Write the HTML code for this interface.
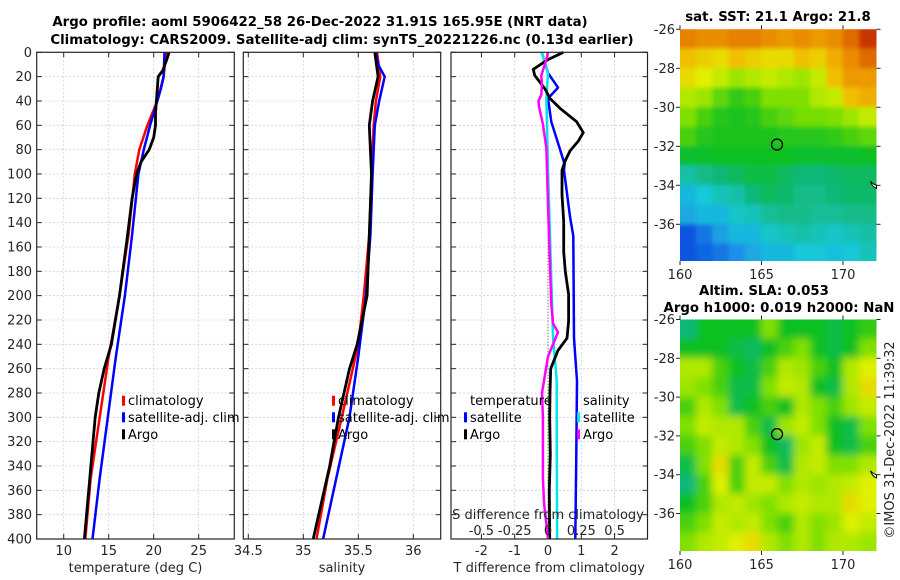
<!DOCTYPE html>
<html><head><meta charset="utf-8">
<style>
html,body{margin:0;padding:0;background:#fff;}
svg{display:block;font-family:"DejaVu Sans","Liberation Sans",sans-serif;}
.tk{font-size:13px;fill:#262626;}
.ttl{font-size:13.3px;font-weight:bold;fill:#000;}
.lg{font-size:13px;fill:#000;}
</style></head>
<body>
<svg id="fig" width="900" height="580" viewBox="0 0 900 580" xmlns="http://www.w3.org/2000/svg">
<text class="ttl" x="320" y="26" text-anchor="middle">Argo profile: aoml 5906422_58 26-Dec-2022 31.91S 165.95E (NRT data)</text>
<text class="ttl" x="342" y="44" text-anchor="middle">Climatology: CARS2009. Satellite-adj clim: synTS_20221226.nc (0.13d earlier)</text>
<text class="ttl" x="778" y="21" text-anchor="middle">sat. SST: 21.1 Argo: 21.8</text>
<text class="ttl" x="764" y="295" text-anchor="middle">Altim. SLA: 0.053</text>
<text class="ttl" x="779" y="312" text-anchor="middle">Argo h1000: 0.019 h2000: NaN</text>
<text class="tk" transform="translate(894,440) rotate(-90)" text-anchor="middle">©IMOS 31-Dec-2022 11:39:32</text>
<g id="layer"></g>
</svg>
<script>
// ---- depth axis ticks
const depthTicks = [0,20,40,60,80,100,120,140,160,180,200,220,240,260,280,300,320,340,360,380,400];
// ---- temperature panel data
const tempTicks = [10,15,20,25];
const climDepth = [0,20,40,60,80,100,150,200,250,300,350,400];
const climTemp = [21.4,21.1,20.4,19.3,18.4,17.9,17.2,16.2,15.0,14.0,13.0,12.4];
const satDepth = [0,20,30,40,60,80,100,150,200,250,300,350,400];
const satTemp = [21.2,21.1,20.8,20.4,19.6,18.9,18.3,17.6,16.8,15.8,14.9,14.0,13.2];
const argoDepth = [0,5,15,20,30,40,50,60,70,80,90,100,120,150,200,240,260,280,300,350,400];
const argoTemp = [21.7,21.5,21.0,20.5,20.4,20.3,20.2,20.2,20.0,19.5,18.6,18.1,17.6,17.1,16.2,15.3,14.5,13.9,13.5,12.9,12.3];
// ---- salinity panel data
const salTicks = [34.5,35,35.5,36];
const salTickLabels = ["34.5","35","35.5","36"];
const climSalDepth = [0,20,40,60,100,150,200,240,260,300,350,400];
const climSal = [35.67,35.70,35.66,35.64,35.62,35.60,35.55,35.50,35.45,35.35,35.22,35.12];
const satSalDepth = [0,10,20,40,60,100,150,200,250,300,350,400];
const satSal = [35.66,35.68,35.74,35.69,35.65,35.63,35.61,35.57,35.50,35.42,35.30,35.18];
const argoSalDepth = [0,20,40,60,100,150,200,240,260,300,340,400];
const argoSal = [35.65,35.68,35.63,35.60,35.62,35.60,35.58,35.49,35.42,35.32,35.24,35.09];
// ---- difference panel data
const tdiffTicks = [-2,-1,0,1,2];
const sdiffTicks = [-0.5,-0.25,0,0.25,0.5];
const sdiffTickLabels = ["-0.5","-0.25","0","0.25","0.5"];
const dTArgoDepth = [0,6,14,19,30,38,46,57,66,73,81,89,97,117,139,164,180,199,221,235,245,260,280,300,330,360,400];
const dTArgo = [0.46,0.0,-0.44,-0.40,-0.09,0.06,0.36,0.86,1.06,0.91,0.66,0.52,0.42,0.42,0.47,0.47,0.52,0.62,0.62,0.57,0.3,0.08,0.06,0.05,0.07,0.04,0.05];
const dTSatDepth = [0,17,29,38,57,79,92,97,135,151,235,270,330,400];
const dTSat = [-0.19,0.0,0.3,0.0,0.1,0.35,0.5,0.48,0.66,0.76,0.78,0.87,0.85,0.82];
const dSSatDepth = [0,17,38,97,235,270,330,400];
const dSSat = [-0.048,0.0,-0.012,0.0,0.038,0.065,0.066,0.068];
const dSArgoDepth = [0,6,19,27,35,40,45,59,79,125,207,223,230,250,280,300,350,370,400];
const dSArgo = [0.0,-0.012,-0.05,-0.045,-0.05,-0.072,-0.067,-0.038,-0.012,0.0,0.025,0.038,0.075,0.0,-0.045,-0.038,-0.038,-0.03,0.0];
// ---- map data (colormap index per 1x1 degree cell, rows lat -26 .. -38, cols lon 160 .. 172)
const mapLonTicks = [160,165,170];
const mapLatTicks = [-26,-28,-30,-32,-34,-36];
const sstGrid = [
[0.82,0.80,0.80,0.82,0.82,0.80,0.78,0.80,0.78,0.80,0.85,0.92],
[0.72,0.70,0.68,0.72,0.70,0.68,0.68,0.72,0.70,0.75,0.80,0.85],
[0.68,0.65,0.62,0.58,0.60,0.62,0.60,0.58,0.62,0.72,0.78,0.78],
[0.60,0.58,0.52,0.48,0.50,0.55,0.55,0.55,0.60,0.62,0.72,0.75],
[0.55,0.50,0.47,0.46,0.47,0.50,0.52,0.54,0.54,0.55,0.58,0.62],
[0.50,0.47,0.46,0.46,0.46,0.46,0.47,0.47,0.47,0.48,0.50,0.52],
[0.44,0.44,0.45,0.45,0.45,0.45,0.45,0.44,0.44,0.44,0.44,0.45],
[0.35,0.37,0.38,0.40,0.42,0.42,0.40,0.38,0.38,0.39,0.40,0.40],
[0.30,0.32,0.34,0.35,0.38,0.40,0.39,0.37,0.37,0.38,0.39,0.39],
[0.28,0.30,0.30,0.33,0.34,0.36,0.37,0.37,0.36,0.36,0.37,0.37],
[0.18,0.22,0.27,0.30,0.30,0.33,0.34,0.35,0.34,0.33,0.34,0.35],
[0.18,0.20,0.22,0.25,0.28,0.30,0.30,0.32,0.32,0.31,0.32,0.34]];
const slaGrid = [
[0.38,0.45,0.45,0.45,0.45,0.55,0.45,0.45,0.45,0.42,0.45,0.48],
[0.45,0.45,0.45,0.42,0.40,0.45,0.50,0.55,0.45,0.42,0.45,0.55],
[0.60,0.60,0.50,0.45,0.42,0.50,0.60,0.58,0.50,0.45,0.60,0.65],
[0.58,0.55,0.50,0.42,0.42,0.55,0.62,0.60,0.45,0.42,0.60,0.68],
[0.50,0.60,0.55,0.42,0.45,0.50,0.45,0.60,0.55,0.50,0.58,0.62],
[0.55,0.62,0.60,0.60,0.50,0.42,0.58,0.62,0.55,0.45,0.42,0.55],
[0.50,0.55,0.62,0.60,0.55,0.45,0.40,0.58,0.62,0.45,0.42,0.50],
[0.42,0.55,0.68,0.50,0.62,0.50,0.42,0.60,0.62,0.55,0.55,0.60],
[0.38,0.50,0.65,0.50,0.62,0.62,0.55,0.60,0.58,0.60,0.62,0.65],
[0.45,0.50,0.60,0.62,0.58,0.55,0.60,0.62,0.60,0.60,0.68,0.65],
[0.50,0.55,0.62,0.60,0.62,0.55,0.50,0.60,0.55,0.58,0.65,0.62],
[0.55,0.60,0.62,0.65,0.68,0.60,0.55,0.60,0.55,0.60,0.60,0.58]];
const floatLon = [165.95];
const floatLat = [-31.91];

const NS="http://www.w3.org/2000/svg";
const layer=document.getElementById('layer');
function mk(tag,attrs,parent){const e=document.createElementNS(NS,tag);for(const k in attrs)e.setAttribute(k,attrs[k]);(parent||layer).appendChild(e);return e;}

const Y0=52.3, Y1=539;
const yD = d => Y0 + d*(Y1-Y0)/400;

function panel(name,x0,x1,xs,xticks,xlabels,xtitle){
  const g=mk('g',{});
  
  
  xticks.forEach(v=>{const x=xs(v);
    mk('line',{x1:x,x2:x,y1:Y0,y2:Y1,stroke:'#c8cce8','stroke-width':0.8,'stroke-dasharray':'2,2'},g);
    mk('line',{x1:x,x2:x,y1:Y1,y2:Y1-5,stroke:'#262626'},g);
    mk('line',{x1:x,x2:x,y1:Y0,y2:Y0+5,stroke:'#262626'},g);});
  depthTicks.forEach(d=>{const y=yD(d);
    mk('line',{x1:x0,x2:x1,y1:y,y2:y,stroke:'#c8cce8','stroke-width':0.8,'stroke-dasharray':'2,2'},g);
    mk('line',{x1:x0,x2:x0+5,y1:y,y2:y,stroke:'#262626'},g);
    mk('line',{x1:x1,x2:x1-5,y1:y,y2:y,stroke:'#262626'},g);});
  if(xlabels){xticks.forEach((v,i)=>{const t=mk('text',{x:xs(v),y:555,'text-anchor':'middle',class:'tk'},g);t.textContent=xlabels[i];
    
    });}
  const tt=mk('text',{x:(x0+x1)/2,y:572,'text-anchor':'middle',class:'tk'},g);tt.textContent=xtitle;
  
  
  return g;
}
function frame(x0,x1,g){mk('rect',{x:x0,y:Y0,width:x1-x0,height:Y1-Y0,fill:'none',stroke:'#262626','stroke-width':1.2},g);}
function line(xs,vals,depths,color,g,w,name){
  const pts=vals.map((v,i)=>xs(v).toFixed(1)+','+yD(depths[i]).toFixed(1)).join(' ');
  const p=mk('polyline',{points:pts,fill:'none',stroke:color,'stroke-width':w||2.5,'stroke-linejoin':'round'},g);
  
  
}
function legend(g,x,y,label,color){
  if(color){const b=mk('rect',{x:x,y:y-5,width:3,height:10,fill:color},g);
    
    }
  const t=mk('text',{x:x+6,y:y+4.5,class:'lg'},g);t.textContent=label;
  
  
}

depthTicks.forEach(d=>{const t=mk('text',{x:32,y:yD(d)+4.5,'text-anchor':'end',class:'tk'});t.textContent=d;
  
  });

// Panel 1: temperature
const P1=[36.7,234.3]; const xT=v=>36.7+(v-7)*9;
const g1=panel('temperature-panel',P1[0],P1[1],xT,tempTicks,tempTicks.map(String),'temperature (deg C)');
line(xT,climTemp,climDepth,'#ff0000',g1,2.5,'climatology-temp-line');
line(xT,satTemp,satDepth,'#0000ff',g1,2.5,'satellite-temp-line');
line(xT,argoTemp,argoDepth,'#000000',g1,2.8,'argo-temp-line');
frame(P1[0],P1[1],g1);
legend(g1,122,400.7,'climatology','#ff0000');
legend(g1,122,417.3,'satellite-adj. clim','#0000ff');
legend(g1,122,434.3,'Argo','#000000');

// Panel 2: salinity
const P2=[243.3,440.7]; const xS=v=>248.3+(v-34.5)*110;
const g2=panel('salinity-panel',P2[0],P2[1],xS,salTicks,salTickLabels,'salinity');
line(xS,climSal,climSalDepth,'#ff0000',g2,2.5,'climatology-sal-line');
line(xS,satSal,satSalDepth,'#0000ff',g2,2.5,'satellite-sal-line');
line(xS,argoSal,argoSalDepth,'#000000',g2,2.8,'argo-sal-line');
frame(P2[0],P2[1],g2);
legend(g2,332,400.7,'climatology','#ff0000');
legend(g2,332,417.3,'satellite-adj. clim','#0000ff');
legend(g2,332,434.3,'Argo','#000000');

// Panel 3: differences
const P3=[451,647.5]; const xDT=v=>548+v*33.3; const xDS=v=>548+v*4*33.3;
const g3=panel('difference-panel',P3[0],P3[1],xDT,tdiffTicks,tdiffTicks.map(String),'T difference from climatology');
const zl=mk('line',{x1:xDT(0),x2:xDT(0),y1:yD(90),y2:Y1,stroke:'#556b2f','stroke-width':1,'stroke-dasharray':'1,2'},g3);


line(xDT,dTSat,dTSatDepth,'#0000ff',g3,2.5,'satellite-tdiff-line');
line(xDS,dSSat,dSSatDepth,'#00e5e5',g3,2.5,'satellite-sdiff-line');
line(xDT,dTArgo,dTArgoDepth,'#000000',g3,2.8,'argo-tdiff-line');
line(xDS,dSArgo,dSArgoDepth,'#ff00ff',g3,2.5,'argo-sdiff-line');
frame(P3[0],P3[1],g3);
legend(g3,464,400.7,'temperature',null);
legend(g3,464,417.3,'satellite','#0000ff');
legend(g3,464,434.3,'Argo','#000000');
legend(g3,577,400.7,'salinity',null);
legend(g3,577,417.3,'satellite','#00e5e5');
legend(g3,577,434.3,'Argo','#ff00ff');
const st=mk('text',{x:548,y:519,'text-anchor':'middle',class:'tk'},g3);st.textContent='S difference from climatology';


sdiffTicks.forEach((v,i)=>{const t=mk('text',{x:xDS(v),y:535,'text-anchor':'middle',class:'tk'},g3);t.textContent=sdiffTickLabels[i];
  
  });

// colormap
const cstops=[[0.15,[0,60,220]],[0.25,[26,144,232]],[0.32,[25,200,216]],[0.38,[16,184,120]],[0.45,[16,192,32]],[0.55,[128,224,0]],[0.65,[224,240,0]],[0.72,[240,192,0]],[0.82,[232,128,0]],[0.95,[192,32,0]]];
function cmap(v){if(v<=cstops[0][0])return 'rgb('+cstops[0][1]+')';
  for(let i=1;i<cstops.length;i++){if(v<=cstops[i][0]){const a=cstops[i-1],b=cstops[i],f=(v-a[0])/(b[0]-a[0]);
    return 'rgb('+a[1].map((c,k)=>Math.round(c+(b[1][k]-c)*f)).join(',')+')';}}
  return 'rgb('+cstops[cstops.length-1][1]+')';}

function map(name,grid,x0,x1,yTop,yBot,lat26,pxLat,blur){
  const g=mk('g',{});
  
  
  const lx=lon=>x0+(lon-160)*16.3; const ly=lat=>lat26+(-26-lat)*pxLat;
  const cid=name+'-clip';
  const cp=mk('clipPath',{id:cid},g); mk('rect',{x:x0,y:yTop,width:x1-x0,height:yBot-yTop},cp);
  const cg=mk('g',{'clip-path':'url(#'+cid+')'},g);
  let tg=cg;
  if(blur){const fid=name+'-blur';const f=mk('filter',{id:fid,x:'-10%',y:'-10%',width:'120%',height:'120%'},g);mk('feGaussianBlur',{stdDeviation:blur},f);
    tg=mk('g',{filter:'url(#'+fid+')'},cg);}
  const R=grid.length, C=grid[0].length;
  for(let r=-1;r<=R;r++){for(let c=-1;c<=C;c++){
    const v=grid[Math.min(R-1,Math.max(0,r))][Math.min(C-1,Math.max(0,c))];
    const cell=mk('rect',{x:lx(160+c)-0.3,y:ly(-26-r)-0.3,width:16.9,height:pxLat+0.9,fill:cmap(v)},tg);
    
    
  }}
  mapLonTicks.forEach(l=>{const x=lx(l);mk('line',{x1:x,x2:x,y1:yBot,y2:yBot+4,stroke:'#262626'},g);mk('line',{x1:x,x2:x,y1:yTop,y2:yTop-4,stroke:'#262626'},g);
    const t=mk('text',{x:x,y:yBot+18,'text-anchor':'middle',class:'tk'},g);t.textContent=l;
    
    });
  mapLatTicks.forEach(l=>{const y=ly(l);mk('line',{x1:x0,x2:x0-4,y1:y,y2:y,stroke:'#262626'},g);mk('line',{x1:x1,x2:x1+4,y1:y,y2:y,stroke:'#262626'},g);
    const t=mk('text',{x:x0-5,y:y+4.5,'text-anchor':'end',class:'tk'},g);t.textContent=l;
    
    });
  floatLon.forEach((lo,i)=>{const c=mk('circle',{cx:lx(lo),cy:ly(floatLat[i]),r:5.5,fill:'none',stroke:'#000','stroke-width':1.3},g);
    
    });
  mk('path',{d:'M'+(x1-6)+','+ly(-33.8)+' q2,6 6,7 l0,-3 q-3,-1 -6,-4z',fill:'#fff',stroke:'#000','stroke-width':1},g);
}
map('sst-map',sstGrid,680,876.5,29.3,261,29.3,19.5,2);
map('sla-map',slaGrid,680,876.5,319.5,551,319.5,19.4,4);
</script>
</body></html>
